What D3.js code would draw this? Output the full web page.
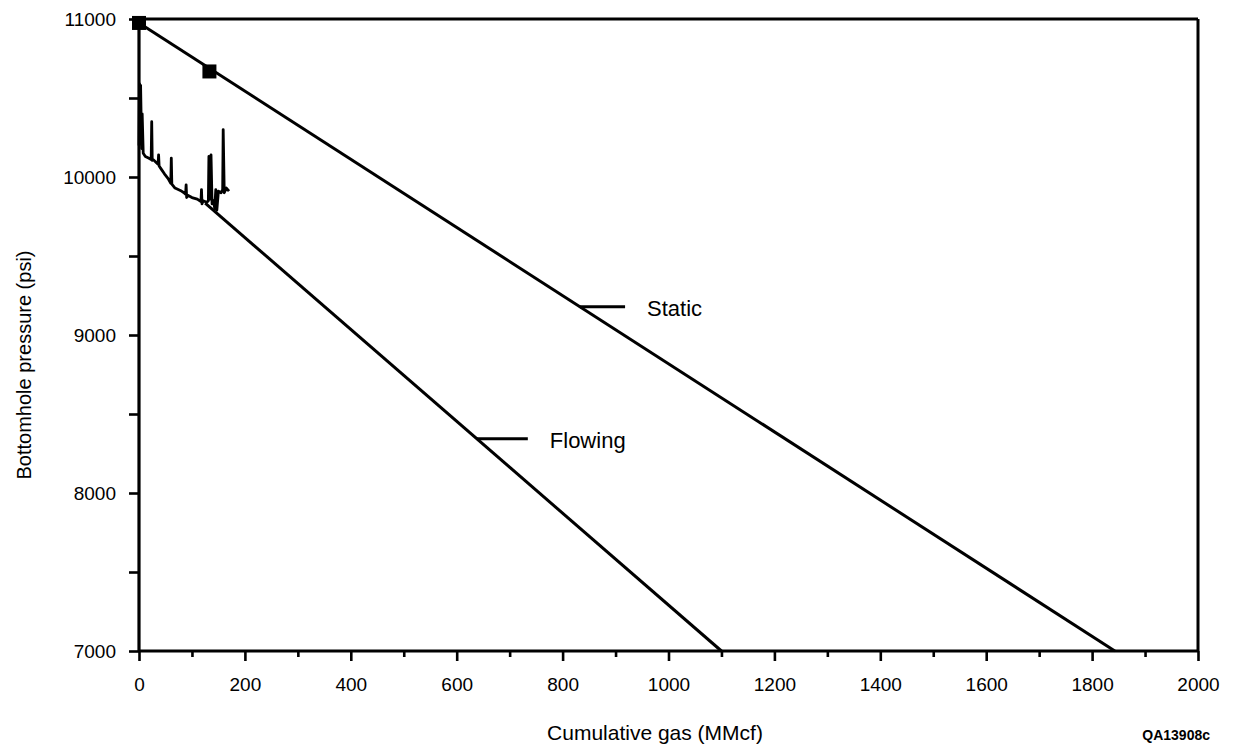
<!DOCTYPE html>
<html>
<head>
<meta charset="utf-8">
<script src="https://cdn.jsdelivr.net/npm/d3@7"></script>
<style>
  html, body { margin: 0; padding: 0; background: #fff; }
  svg { display: block; font-family: "Liberation Sans", Arial, Helvetica, sans-serif; }
</style>
</head>
<body>
<svg id="chart" width="1237" height="747"></svg>
<script>
// Axis ticks
const xMajorTicks = [0, 200, 400, 600, 800, 1000, 1200, 1400, 1600, 1800, 2000];
const xMinorTicks = [100, 300, 500, 700, 900, 1100, 1300, 1500, 1700, 1900];
const yMajorTicks = [7000, 8000, 9000, 10000, 11000];
const yMinorTicks = [7500, 8500, 9500, 10500];

// Static bottomhole pressure: measured points and extrapolated line (MMcf, psi)
const staticPoints = [[0, 10975], [133, 10668]];
const staticLine = [[0, 10975], [1843, 7000]];

// Flowing bottomhole pressure: recorded gauge trace and extrapolated trend (MMcf, psi)
const flowingRecord = [
  [0, 10200], [1, 10590], [2, 10250], [3, 10580], [5, 10180], [6, 10400], [8, 10150],
  [12, 10130], [18, 10120], [23, 10110], [24, 10350], [25, 10105], [27, 10110],
  [33, 10090], [36, 10080], [37, 10140], [38, 10070], [42, 10050], [48, 10020],
  [55, 9990], [60, 9960], [61, 10120], [62, 9955], [68, 9930], [78, 9915],
  [85, 9900], [88, 9890], [89, 9950], [90, 9870], [92, 9885], [100, 9870],
  [110, 9860], [117, 9845], [118, 9920], [119, 9830], [121, 9850], [128, 9840],
  [131, 9850], [132, 10130], [134, 9860], [136, 10140], [138, 9830], [141, 9850],
  [143, 9800], [145, 9920], [147, 9790], [150, 9910], [155, 9900], [158, 9920],
  [159, 10300], [161, 9900], [165, 9930], [170, 9910]
];
const flowingLine = [[125, 9835], [1100, 7000]];

// Curve labels: name and the gas volume where the leader meets its line
const curveLabels = ["Static", "Flowing"];
const labelAt = [833, 638];

const svg = d3.select("#chart");
const margin = { left: 139, right: 39, top: 19, bottom: 96 };
const W = 1237, H = 747;

const x = d3.scaleLinear().domain([0, 2000]).range([margin.left, W - margin.right]);
const y = d3.scaleLinear().domain([7000, 11000]).range([H - margin.bottom, margin.top]);

const ink = "#000";

// Frame: top and right edges
svg.append("line")
  .attr("x1", x(0)).attr("x2", x(2000)).attr("y1", y(11000)).attr("y2", y(11000))
  .attr("stroke", ink).attr("stroke-width", 3);
svg.append("line")
  .attr("x1", x(2000)).attr("x2", x(2000)).attr("y1", y(11000)).attr("y2", y(7000))
  .attr("stroke", ink).attr("stroke-width", 3);

// Bottom axis: labelled majors, shorter minors
const xAxis = svg.append("g")
  .attr("transform", `translate(0,${y(7000)})`)
  .call(d3.axisBottom(x).tickValues(xMajorTicks).tickSize(10).tickPadding(17).tickFormat(d3.format("d")));
const xAxisMinor = svg.append("g")
  .attr("transform", `translate(0,${y(7000)})`)
  .call(d3.axisBottom(x).tickValues(xMinorTicks).tickSize(6).tickFormat(""));

// Left axis
const yAxis = svg.append("g")
  .attr("transform", `translate(${x(0)},0)`)
  .call(d3.axisLeft(y).tickValues(yMajorTicks).tickSize(10).tickPadding(13).tickFormat(d3.format("d")));
const yAxisMinor = svg.append("g")
  .attr("transform", `translate(${x(0)},0)`)
  .call(d3.axisLeft(y).tickValues(yMinorTicks).tickSize(10).tickFormat(""));

[xAxis, xAxisMinor, yAxis, yAxisMinor].forEach(g => {
  g.select(".domain").attr("stroke", ink).attr("stroke-width", 3.2);
  g.selectAll(".tick line").attr("stroke", ink).attr("stroke-width", 2.6);
  g.selectAll(".tick text")
    .attr("fill", ink)
    .style("font-size", "19px")
    .style("font-family", "\"Liberation Sans\", Arial, sans-serif");
});
xAxis.select(".domain").attr("d", `M${x(0)},0H${x(2000)}`);
xAxisMinor.select(".domain").remove();
yAxis.select(".domain").attr("d", `M0,${y(7000)}V${y(11000)}`);
yAxisMinor.select(".domain").remove();

const line = d3.line().x(d => x(d[0])).y(d => y(d[1]));

// Static line and measured points
svg.append("path").datum(staticLine)
  .attr("d", line).attr("fill", "none").attr("stroke", ink).attr("stroke-width", 3);
svg.selectAll("rect.static-pt").data(staticPoints).enter().append("rect")
  .attr("class", "static-pt")
  .attr("x", d => x(d[0]) - 7).attr("y", d => y(d[1]) - 7)
  .attr("width", 14).attr("height", 14).attr("fill", ink);

// Flowing gauge record and trend
svg.append("path").datum(flowingRecord)
  .attr("d", line).attr("fill", "none").attr("stroke", ink)
  .attr("stroke-width", 2.8).attr("stroke-linejoin", "round");
svg.append("path").datum(flowingLine)
  .attr("d", line).attr("fill", "none").attr("stroke", ink).attr("stroke-width", 3);

// Leader lines and curve names
const lines = [staticLine, flowingLine];
const leaderLen = [45, 51];
curveLabels.forEach((name, i) => {
  const [[x0, y0], [x1, y1]] = lines[i];
  const v = labelAt[i];
  const p = y0 + (y1 - y0) * (v - x0) / (x1 - x0);
  const px = x(v), py = y(p);
  svg.append("line")
    .attr("x1", px).attr("x2", px + leaderLen[i]).attr("y1", py).attr("y2", py)
    .attr("stroke", ink).attr("stroke-width", 3);
  svg.append("text")
    .attr("x", px + leaderLen[i] + 22).attr("y", py + 2)
    .attr("dominant-baseline", "central")
    .style("font-size", "22px").attr("fill", ink)
    .text(name);
});

// Axis titles
svg.append("text")
  .attr("x", 655).attr("y", 740)
  .attr("text-anchor", "middle")
  .style("font-size", "21px").attr("fill", ink)
  .text("Cumulative gas (MMcf)");

svg.append("text")
  .attr("transform", `translate(31,${(y(7000) + y(11000)) / 2 + 30}) rotate(-90)`)
  .attr("text-anchor", "middle")
  .style("font-size", "20px").attr("fill", ink)
  .text("Bottomhole pressure (psi)");

// Figure code
svg.append("text")
  .attr("x", 1210).attr("y", 740)
  .attr("text-anchor", "end")
  .style("font-size", "14px").style("font-weight", "bold").attr("fill", ink)
  .text("QA13908c");
</script>
</body>
</html>
